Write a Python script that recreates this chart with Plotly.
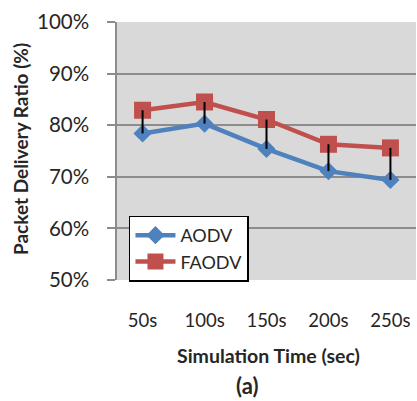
import plotly.graph_objects as go

# Packet delivery ratio (%) versus simulation time
times = ["50s", "100s", "150s", "200s", "250s"]
aodv = [78.4, 80.3, 75.4, 71.1, 69.4]
faodv = [82.9, 84.5, 81.1, 76.3, 75.6]
y_ticks = [50, 60, 70, 80, 90, 100]
y_tick_text = [f"{v}%" for v in y_ticks]

BLUE = "#4F81BD"
RED = "#C0504D"
GRID = "#8C8C8C"
TEXT = "#262626"
FONT = "Lato"

W, H = 417, 401
ML, MR, MT, MB = 117, 1, 22, 121
plot_w = W - ML - MR
plot_h = H - MT - MB


def px_to_paper(px, py):
    return (px - ML) / plot_w, (H - MB - py) / plot_h


fig = go.Figure()

fig.add_trace(go.Scatter(
    x=times, y=aodv, name="AODV", mode="lines+markers",
    line=dict(color=BLUE, width=4.5),
    marker=dict(symbol="diamond", size=14, color=BLUE),
))
fig.add_trace(go.Scatter(
    x=times, y=faodv, name="FAODV", mode="lines+markers",
    line=dict(color=RED, width=4.5),
    marker=dict(symbol="square", size=17, color=RED),
))

# High-low lines joining the two series at each time
hl_x, hl_y = [], []
for t, lo, hi in zip(times, aodv, faodv):
    hl_x += [t, t, None]
    hl_y += [hi, lo, None]
fig.add_trace(go.Scatter(
    x=hl_x, y=hl_y, mode="lines", showlegend=False, hoverinfo="skip",
    line=dict(color="black", width=2),
))

texts = [
    ("<b>Simulation Time (sec)</b>", 268, 355, 19.5, 0),
    ("<b>(a)</b>", 247, 385, 22, 0),
    ("<b>Packet Delivery Ratio (%)</b>", 20, 149, 19, -90),
]
annotations = []
for txt, px, py, size, angle in texts:
    ax, ay = px_to_paper(px, py)
    annotations.append(dict(
        text=txt, x=ax, y=ay, xref="paper", yref="paper",
        xanchor="center", yanchor="middle", showarrow=False,
        textangle=angle, font=dict(size=size, color=TEXT, family=FONT),
    ))

fig.update_layout(
    width=W, height=H,
    margin=dict(l=ML, r=MR, t=MT, b=MB),
    paper_bgcolor="white",
    plot_bgcolor="#D9D9D9",
    font=dict(family=FONT, color=TEXT),
    showlegend=True,
    legend=dict(
        x=0.04, y=0.25, xanchor="left", yanchor="top",
        bgcolor="white", bordercolor="black", borderwidth=1.5,
        font=dict(size=18, color=TEXT, family=FONT),
        tracegroupgap=0, itemwidth=40,
    ),
    xaxis=dict(
        type="category", showgrid=False, zeroline=False,
        showline=False, ticks="",
        tickfont=dict(size=18.5, color=TEXT, family=FONT),
        ticklabelstandoff=27,
    ),
    yaxis=dict(
        range=[50, 100], tickvals=y_ticks, ticktext=y_tick_text,
        showgrid=True, gridcolor=GRID, gridwidth=1.5,
        zeroline=False, showline=True, linecolor=GRID, linewidth=1.5,
        ticks="outside", ticklen=8, tickcolor=GRID, tickwidth=1.5,
        tickfont=dict(size=20.5, color=TEXT, family=FONT),
        ticklabelstandoff=14,
    ),
    annotations=annotations,
)

fig.write_html("out.html")
